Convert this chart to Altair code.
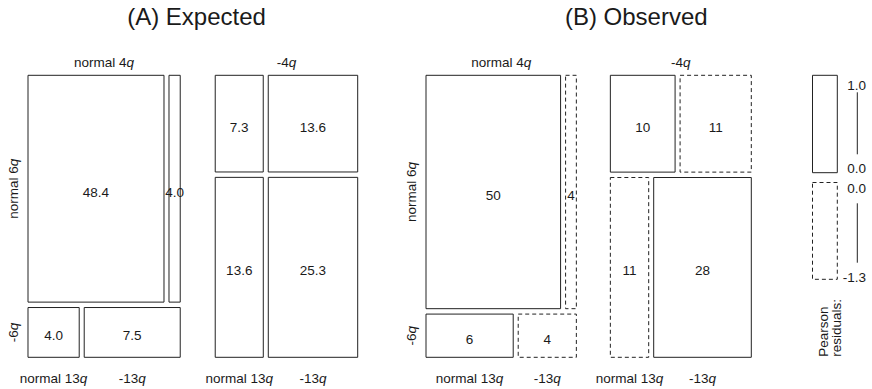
import altair as alt
import pandas as pd

# ---------------- data ----------------
var4 = ["normal 4q", "-4q"]          # first split (columns)
var6 = ["normal 6q", "-6q"]          # second split (rows)
var13 = ["normal 13q", "-13q"]       # third split (columns)
# cell order: (4q, 6q, 13q) = nnn, nn-, n-n, n--, -nn, -n-, --n, ---
expected = [48.4, 4.0, 4.0, 7.5, 7.3, 13.6, 13.6, 25.3]
observed = [50, 4, 6, 4, 10, 11, 11, 28]
panel_titles = ["(A) Expected", "(B) Observed"]
legend_title = ["Pearson", "residuals:"]

# ---------------- style / layout ----------------
W, H = 872, 389
FONT = "Liberation Sans"
FS = 13.5
TXT = "#1a1a1a"
LINE = "#222222"

residuals = [(o - e) / e ** 0.5 for o, e in zip(observed, expected)]

CHAR_W = {"n": .556, "o": .556, "r": .333, "m": .833, "a": .556, "l": .222,
          " ": .278, "-": .333, "q": .556, ".": .278}


def text_width(s, fs=FS):
    return sum(CHAR_W.get(c, .556) for c in s) * fs


def mosaic(values, styles, fmt, left, top, width, height, gx4, gy6, gx13):
    tot = sum(values)
    tiles, groups = [], []
    x = left
    for i4 in range(2):
        sub = values[i4 * 4:(i4 + 1) * 4]
        m4 = sum(sub)
        w4 = (width - gx4) * m4 / tot
        groups.append((x, x + w4))
        y = top
        for i6 in range(2):
            m6 = sub[i6 * 2] + sub[i6 * 2 + 1]
            h6 = (height - gy6) * m6 / m4
            xx = x
            for i13 in range(2):
                k = i4 * 4 + i6 * 2 + i13
                w13 = (w4 - gx13) * values[k] / m6
                tiles.append(dict(x=xx, x2=xx + w13, y=y, y2=y + h6,
                                  style=styles[k], label=fmt(values[k]),
                                  i4=i4, i6=i6, i13=i13))
                xx += w13 + gx13
            y += h6 + gy6
        x += w4 + gx4
    return tiles, groups


styleA = ["pos"] * 8
styleB = ["pos" if r > 0 else "neg" for r in residuals]

tilesA, groupsA = mosaic(expected, styleA, lambda v: f"{v:.1f}",
                         28, 75.3, 329.7, 282, 35, 5.4, 5)
tilesB, groupsB = mosaic(observed, styleB, lambda v: f"{v:d}",
                         426, 75.3, 325.3, 282, 34, 5.4, 5)

tiles = pd.DataFrame(tilesA + tilesB)
tiles["cx"] = (tiles.x + tiles.x2) / 2
tiles["cy"] = (tiles.y + tiles.y2) / 2 + 8

# ---- category labels with italic "q" ----
labels = []


def add_label(text, x, y, angle):
    pre, suf = text[:-1], text[-1]
    wp = text_width(pre)
    w = wp + text_width(suf)
    off = wp - w / 2
    if angle == 0:
        ax, ay = x + off, y
    else:
        ax, ay = x, y - off
    labels.append(dict(x=ax, y=ay, pre=pre, suf=suf, angle=angle))


for tl, groups, left, top, bottom in [(tilesA, groupsA, 28, 75.3, 357.3),
                                      (tilesB, groupsB, 426, 75.3, 357.3)]:
    for i4, (g0, g1) in enumerate(groups):
        add_label(var4[i4], (g0 + g1) / 2, top - 8.8, 0)
    for t in tl:
        if t["i4"] == 0 and t["i13"] == 0:
            add_label(var6[t["i6"]], left - 10, (t["y"] + t["y2"]) / 2, 270)
        if t["i6"] == 1:
            add_label(var13[t["i13"]], (t["x"] + t["x2"]) / 2, bottom + 25.4, 0)

labels = pd.DataFrame(labels)

titles = pd.DataFrame(dict(x=[196.5, 636.3], y=[25, 25], text=panel_titles))

# ---- residual legend ----
rmax = max(residuals)
rmin = min(residuals)
leg_boxes = pd.DataFrame(dict(x=[812.5, 812.5], x2=[837.3, 837.3],
                              y=[75.3, 182.5], y2=[172.7, 279.3],
                              style=["pos", "neg"]))
leg_text = pd.DataFrame(dict(x=[866] * 4, y=[89.8, 173.1, 193.1, 282.1],
                             text=[f"{rmax:.1f}", f"{0:.1f}", f"{0:.1f}", f"{rmin:.1f}"]))
leg_rules = pd.DataFrame(dict(x=[857.3, 857.3], y=[92.3, 203.3], y2=[154.3, 262.7]))
leg_title = pd.DataFrame(dict(x=[827.5, 840.5], y=[356.7, 356.7], text=legend_title))

all_boxes = pd.concat([tiles[["x", "x2", "y", "y2", "style"]], leg_boxes], ignore_index=True)

# ---------------- chart ----------------
XS = alt.Scale(domain=[0, W], range=[0, W], nice=False, zero=False)
YS = alt.Scale(domain=[0, H], range=[0, H], nice=False, zero=False)

X = alt.X("x:Q", scale=XS, axis=None)
Y = alt.Y("y:Q", scale=YS, axis=None)

box_base = alt.Chart(all_boxes).encode(x=X, x2="x2:Q", y=Y, y2="y2:Q")
solid = box_base.transform_filter(alt.datum.style == "pos").mark_rect(
    fill="white", stroke=LINE, strokeWidth=1)
dashed = box_base.transform_filter(alt.datum.style == "neg").mark_rect(
    fill="white", stroke=LINE, strokeWidth=1, strokeDash=[4, 3])

cell_text = alt.Chart(tiles).mark_text(font=FONT, fontSize=FS, color=TXT,
                                       align="center", baseline="alphabetic").encode(
    x=alt.X("cx:Q", scale=XS, axis=None), y=alt.Y("cy:Q", scale=YS, axis=None),
    text="label:N")

lab_pre = alt.Chart(labels).mark_text(font=FONT, fontSize=FS, color=TXT,
                                      align="right", baseline="alphabetic").encode(
    x=X, y=Y, text="pre:N", angle=alt.Angle("angle:Q", scale=None))
lab_suf = alt.Chart(labels).mark_text(font=FONT, fontSize=FS, color=TXT, fontStyle="italic",
                                      align="left", baseline="alphabetic").encode(
    x=X, y=Y, text="suf:N", angle=alt.Angle("angle:Q", scale=None))

title_text = alt.Chart(titles).mark_text(font=FONT, fontSize=24, color=TXT,
                                         align="center", baseline="alphabetic").encode(
    x=X, y=Y, text="text:N")

leg_lab = alt.Chart(leg_text).mark_text(font=FONT, fontSize=FS, color=TXT,
                                        align="right", baseline="alphabetic").encode(
    x=X, y=Y, text="text:N")
leg_line = alt.Chart(leg_rules).mark_rule(color=LINE, strokeWidth=1).encode(
    x=X, y=Y, y2="y2:Q")
leg_ttl = alt.Chart(leg_title).mark_text(font=FONT, fontSize=FS, color=TXT, angle=270,
                                         align="left", baseline="alphabetic").encode(
    x=X, y=Y, text="text:N")

chart = alt.layer(solid, dashed, cell_text, lab_pre, lab_suf, title_text,
                  leg_lab, leg_line, leg_ttl).properties(
    width=W, height=H, padding=0, autosize=alt.AutoSizeParams(type="none"),
    background="white"
).configure_view(stroke=None)

chart.save("out.html", embed_options={"renderer": "svg", "actions": False})
